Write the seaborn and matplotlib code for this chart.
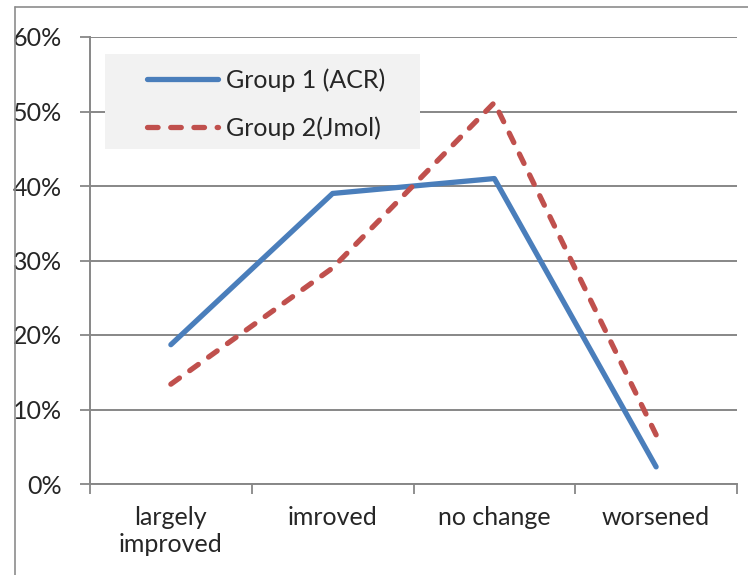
import pandas as pd
import matplotlib.pyplot as plt
import seaborn as sns
from matplotlib.lines import Line2D
from matplotlib.patches import Rectangle

# Chart values (percent)
categories = ['largely\nimproved', 'imroved', 'no change', 'worsened']
group1 = [18.7, 39.0, 41.0, 2.3]
group2 = [13.4, 29.0, 51.2, 6.6]
series_names = ['Group 1 (ACR)', 'Group 2(Jmol)']
y_ticks = [0, 10, 20, 30, 40, 50, 60]

df = pd.DataFrame({
    'Category': categories * 2,
    'Value': group1 + group2,
    'Group': [series_names[0]] * 4 + [series_names[1]] * 4,
})

sns.set_style("white")
plt.rcParams['font.family'] = ['Lato', 'DejaVu Sans']
FS = 18
GRAY = '#878787'

W, H = 748, 575
fig = plt.figure(figsize=(W / 100, H / 100), dpi=100)
ax = fig.add_axes([90 / W, 1 - 484 / H, (737 - 90) / W, (484 - 37) / H])

sns.lineplot(
    data=df, x='Category', y='Value', hue='Group', style='Group',
    palette={series_names[0]: '#4a7ebb', series_names[1]: '#c0504d'},
    dashes={series_names[0]: '', series_names[1]: (2.0, 2.4)},
    sort=False, linewidth=3.8, ax=ax, zorder=4,
    solid_capstyle='round', dash_capstyle='round',
)

# Axes look (Excel style)
ax.set_xlim(-0.5, 3.5)
ax.set_ylim(0, 60)
ax.set_yticks(y_ticks)
ax.set_yticklabels([f'{v}%' for v in y_ticks], fontsize=FS)
ax.set_xticks([-0.5, 0.5, 1.5, 2.5, 3.5])
ax.set_xticklabels([])
ax.set_xticks(range(len(categories)), minor=True)
ax.set_xticklabels(categories, minor=True, fontsize=FS)
ax.tick_params(axis='x', which='major', direction='out', length=7, width=1.3, color=GRAY, bottom=True)
ax.tick_params(axis='x', which='minor', length=0, pad=16)
ax.tick_params(axis='y', direction='out', length=7, width=1.3, color=GRAY, left=True, pad=13)
ax.set_xlabel('')
ax.set_ylabel('')
ax.yaxis.grid(True, color=GRAY, linewidth=1.4)
ax.set_axisbelow(True)
for side in ['top', 'right']:
    ax.spines[side].set_visible(False)
for side in ['left', 'bottom']:
    ax.spines[side].set_color(GRAY)
    ax.spines[side].set_linewidth(1.4)

# Legend box and entries
fig.add_artist(Rectangle((105 / W, 1 - 149 / H), (420 - 105) / W, (149 - 54) / H,
                         transform=fig.transFigure, facecolor='#f2f2f2',
                         edgecolor='none', zorder=2))
handles, labels = ax.get_legend_handles_labels()
ax.get_legend().remove()
leg = fig.legend(handles, labels, loc='upper left',
                 bbox_to_anchor=(147 / W, 1 - 68 / H), frameon=False,
                 fontsize=FS, handlelength=2.85, handletextpad=0.3,
                 labelspacing=1.0, borderpad=0, borderaxespad=0)
leg.set_zorder(5)

# Chart area border (left and top edges visible)
fig.add_artist(Line2D([15 / W, 15 / W], [0, 1 - 7 / H], transform=fig.transFigure,
                      color='#8c8c8c', linewidth=1.2))
fig.add_artist(Line2D([15 / W, 1], [1 - 7 / H, 1 - 7 / H], transform=fig.transFigure,
                      color='#8c8c8c', linewidth=1.2))

fig.savefig('out.png', dpi=100, facecolor='white')
